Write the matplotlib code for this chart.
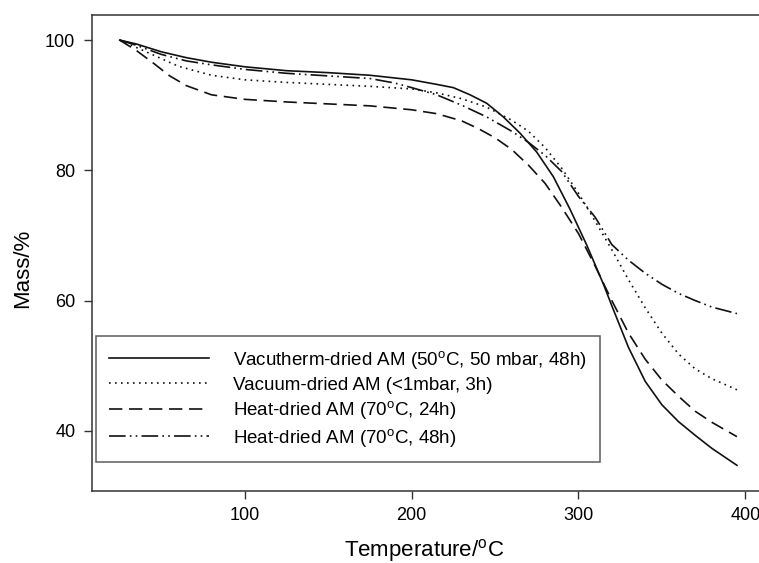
import matplotlib
matplotlib.use("Agg")
import matplotlib.pyplot as plt

plt.rcParams['font.family'] = ['Liberation Sans', 'DejaVu Sans']
plt.rcParams['mathtext.default'] = 'regular'

# Vacutherm-dried AM (50 C, 50 mbar, 48h)
t_vacutherm = [25, 35, 50, 65, 80, 100, 125, 150, 175, 200, 215, 225, 235, 245, 255, 265,
               275, 285, 295, 305, 315, 320, 330, 340, 350, 360, 370, 380, 395]
m_vacutherm = [100, 99.4, 98.2, 97.3, 96.6, 95.9, 95.3, 95.0, 94.6, 93.9, 93.2, 92.7, 91.6, 90.3, 88.2, 85.7,
               82.8, 79.0, 74.0, 68.5, 62.5, 59.2, 52.8, 47.6, 44.0, 41.4, 39.3, 37.3, 34.7]

# Vacuum-dried AM (<1mbar, 3h)
t_vacuum = [25, 40, 60, 80, 100, 125, 150, 175, 200, 215, 230, 245, 260, 270, 280, 290,
            300, 310, 320, 330, 340, 350, 360, 370, 380, 395]
m_vacuum = [100, 98.3, 96.0, 94.6, 93.9, 93.5, 93.2, 92.9, 92.5, 91.9, 91.0, 89.7, 87.7, 86.0, 83.5, 80.3,
            76.5, 72.2, 67.8, 63.2, 58.9, 55.0, 51.8, 49.5, 48.0, 46.3]

# Heat-dried AM (70 C, 24h)
t_heat24 = [25, 35, 45, 55, 65, 80, 100, 125, 150, 175, 200, 215, 230, 240, 250, 260,
            270, 280, 290, 300, 310, 320, 330, 340, 350, 360, 370, 380, 395]
m_heat24 = [100, 98.4, 96.5, 94.5, 93.0, 91.6, 90.9, 90.5, 90.2, 89.9, 89.3, 88.7, 87.6, 86.4, 85.0, 83.2,
            80.8, 78.0, 74.3, 70.3, 65.3, 60.0, 55.0, 51.0, 47.8, 45.3, 43.0, 41.3, 39.1]

# Heat-dried AM (70 C, 48h)
t_heat48 = [25, 35, 50, 65, 80, 100, 125, 150, 175, 190, 200, 215, 230, 245, 260, 270,
            280, 290, 300, 310, 320, 330, 340, 350, 360, 370, 380, 395]
m_heat48 = [100, 99.2, 97.8, 96.8, 96.2, 95.5, 94.9, 94.5, 94.1, 93.4, 92.7, 91.6, 90.0, 88.2, 86.0, 84.3,
            82.3, 79.8, 76.0, 72.8, 68.6, 66.2, 64.2, 62.5, 61.1, 60.0, 59.0, 58.0]

labels = ['Vacutherm-dried AM (50$^{o}$C, 50 mbar, 48h)',
          'Vacuum-dried AM (<1mbar, 3h)',
          'Heat-dried AM (70$^{o}$C, 24h)',
          'Heat-dried AM (70$^{o}$C, 48h)']

fig = plt.figure(figsize=(7.59, 5.63), dpi=100)
ax = fig.add_axes([0.1212, 0.1284, 0.8827, 0.8455])

lw = 1.2
ax.plot(t_vacutherm, m_vacutherm, color='#111111', lw=lw, label=labels[0])
ax.plot(t_vacuum, m_vacuum, color='#111111', lw=lw, linestyle=(0, (1, 2.6)), label=labels[1])
ax.plot(t_heat24, m_heat24, color='#111111', lw=lw, linestyle=(0, (8, 4)), label=labels[2])
ax.plot(t_heat48, m_heat48, color='#111111', lw=lw, linestyle=(0, (10, 2.5, 1, 2.5, 1, 2.5)), label=labels[3])

ax.set_xlim(8.4, 410)
ax.set_ylim(30.8, 103.9)
ax.set_xticks([100, 200, 300, 400])
ax.set_yticks([40, 60, 80, 100])

for s in ['left', 'bottom', 'top']:
    ax.spines[s].set_color('#333333')
    ax.spines[s].set_linewidth(1.1)
ax.spines['right'].set_visible(False)
ax.tick_params(direction='out', length=6, width=1.0, color='#333333', labelsize=13, pad=6,
               top=False, right=False)

ax.set_xlabel('Temperature/$^{o}$C', fontsize=16)
ax.set_ylabel('Mass/%', fontsize=16)
ax.xaxis.set_label_coords(0.496, -0.098)
ax.yaxis.set_label_coords(-0.088, 0.468)

leg = ax.legend(loc='lower left', bbox_to_anchor=(0.006, 0.06), borderaxespad=0,
                fontsize=13.5, handlelength=5.3, handletextpad=1.3, labelspacing=0.3,
                borderpad=0.7, frameon=True, fancybox=False)
leg.get_frame().set_edgecolor('#333333')
leg.get_frame().set_linewidth(1.1)

fig.savefig('out.png', dpi=100)
